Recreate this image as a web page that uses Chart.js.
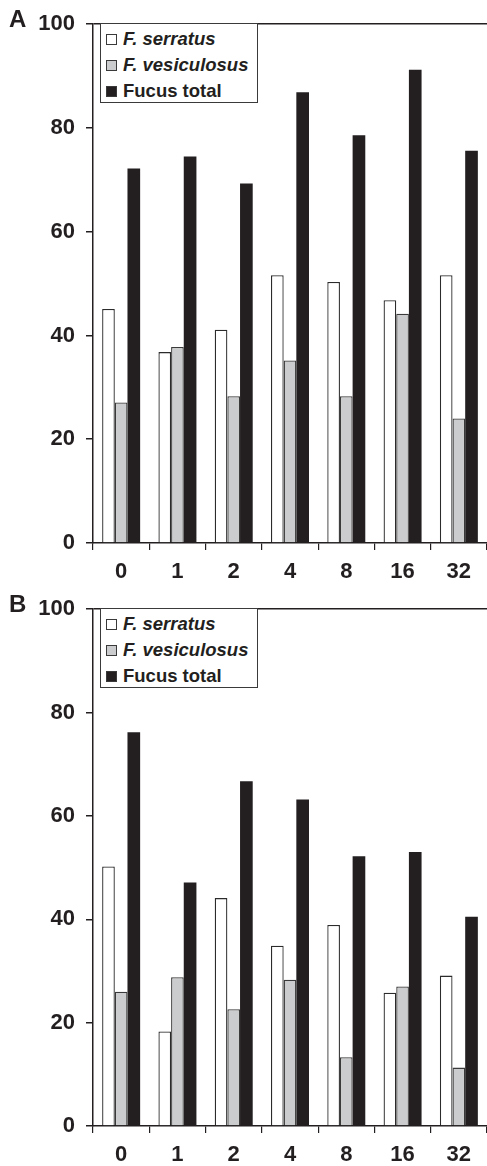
<!DOCTYPE html>
<html>
<head>
<meta charset="utf-8">
<title>Fucus cover</title>
<script src="https://cdn.jsdelivr.net/npm/chart.js@4"></script>
<style>
    body { margin: 0; background: #fff; font-family: "Liberation Sans", Arial, sans-serif; }
    #page { position: relative; width: 487px; height: 1166px; overflow: hidden; }
    .panel { position: absolute; left: 0; width: 487px; }
    .panel canvas { position: absolute; left: 0; top: 0; }
    .panel-letter { position: absolute; left: 9px; top: 5px; font-weight: bold; font-size: 24px; color: #231f20; }
    .legend-box {
        position: absolute; left: 100px; top: 23px; width: 158px; height: 80px;
        border: 1px solid #3a3a3a; background: #fff; box-sizing: border-box;
        padding: 2px 0 0 5px;
    }
    .legend-row { height: 26px; display: flex; align-items: center; font-weight: bold; font-size: 18.5px; color: #231f20; }
    .legend-swatch { width: 9px; height: 9px; border: 1px solid #3a3a3a; margin-right: 6px; flex: none; }
</style>
</head>
<body>
<div id="page">
    <div class="panel" id="panelA" style="top:0; height:583px;">
        <canvas id="chartA" width="487" height="583"></canvas>
        <div class="panel-letter">A</div>
        <div class="legend-box" id="legendA"></div>
    </div>
    <div class="panel" id="panelB" style="top:585px; height:581px;">
        <canvas id="chartB" width="487" height="581"></canvas>
        <div class="panel-letter">B</div>
        <div class="legend-box" id="legendB"></div>
    </div>
</div>

<script>
// Data
const categories = ['0', '1', '2', '4', '8', '16', '32'];
const seriesNames = ['F. serratus', 'F. vesiculosus', 'Fucus total'];
const yTicks = [0, 20, 40, 60, 80, 100];

// Panel A
const serratusA = [45.1, 36.8, 41.1, 51.6, 50.3, 46.8, 51.6];
const vesiculosusA = [27.1, 37.8, 28.3, 35.2, 28.3, 44.2, 24.0];
const totalA = [72.2, 74.5, 69.3, 86.9, 78.6, 91.2, 75.6];

// Panel B
const serratusB = [50.2, 18.3, 44.1, 34.9, 38.9, 25.8, 29.1];
const vesiculosusB = [26.0, 28.8, 22.6, 28.3, 13.3, 27.0, 11.3];
const totalB = [76.2, 47.1, 66.7, 63.2, 52.2, 53.0, 40.5];

// Styles
const fillColors = ['#ffffff', '#cbcccd', '#231f20'];
const edgeColors = ['#2b2b2b', '#3a3a3a', '#231f20'];
const italicNames = [true, true, false];
const inkColor = '#231f20';
const tickFont = { family: '"Liberation Sans", Arial, sans-serif', size: 22, weight: 'bold' };

// Build the boxed legend from the series names
function buildLegend(containerId) {
    const box = document.getElementById(containerId);
    box.innerHTML = seriesNames.map((name, i) => `
        <div class="legend-row">
            <span class="legend-swatch" style="background:${fillColors[i]}"></span>
            <span style="font-style:${italicNames[i] ? 'italic' : 'normal'}">${name}</span>
        </div>
    `).join('');
}

// Create one bar panel
function createPanelChart(canvasId, serratus, vesiculosus, total) {
    const ctx = document.getElementById(canvasId).getContext('2d');
    const values = [serratus, vesiculosus, total];

    new Chart(ctx, {
        type: 'bar',
        data: {
            labels: categories,
            datasets: seriesNames.map((name, i) => ({
                label: name,
                data: values[i],
                backgroundColor: fillColors[i],
                borderColor: edgeColors[i],
                borderWidth: i === 2 ? 0 : 1.3,
                borderSkipped: 'bottom',
                categoryPercentage: 0.675,
                barPercentage: 1.0
            }))
        },
        options: {
            responsive: false,
            animation: false,
            layout: { padding: { top: 18, right: 0, left: 0, bottom: 0 } },
            plugins: {
                legend: { display: false },
                tooltip: { enabled: false }
            },
            scales: {
                x: {
                    offset: true,
                    afterFit: scale => { scale.height = 40; },
                    border: { display: true, color: inkColor, width: 1.5 },
                    grid: {
                        offset: true,
                        drawOnChartArea: false,
                        drawTicks: true,
                        tickLength: 7,
                        color: inkColor,
                        lineWidth: 1.2
                    },
                    ticks: {
                        color: inkColor,
                        font: tickFont,
                        padding: 9,
                        maxRotation: 0
                    }
                },
                y: {
                    min: 0,
                    max: 100,
                    afterFit: scale => { scale.width = 93; },
                    afterBuildTicks: scale => { scale.ticks = yTicks.map(v => ({ value: v })); },
                    border: { display: true, color: inkColor, width: 1.5 },
                    grid: {
                        drawOnChartArea: true,
                        drawTicks: true,
                        tickLength: 7,
                        tickColor: inkColor,
                        color: c => (c.tick && c.tick.value === 100 ? inkColor : 'rgba(0,0,0,0)'),
                        lineWidth: 1.5
                    },
                    ticks: {
                        color: inkColor,
                        font: tickFont,
                        padding: 11
                    }
                }
            }
        }
    });
}

document.addEventListener('DOMContentLoaded', function() {
    buildLegend('legendA');
    buildLegend('legendB');
    createPanelChart('chartA', serratusA, vesiculosusA, totalA);
    createPanelChart('chartB', serratusB, vesiculosusB, totalB);
});
</script>
</body>
</html>
